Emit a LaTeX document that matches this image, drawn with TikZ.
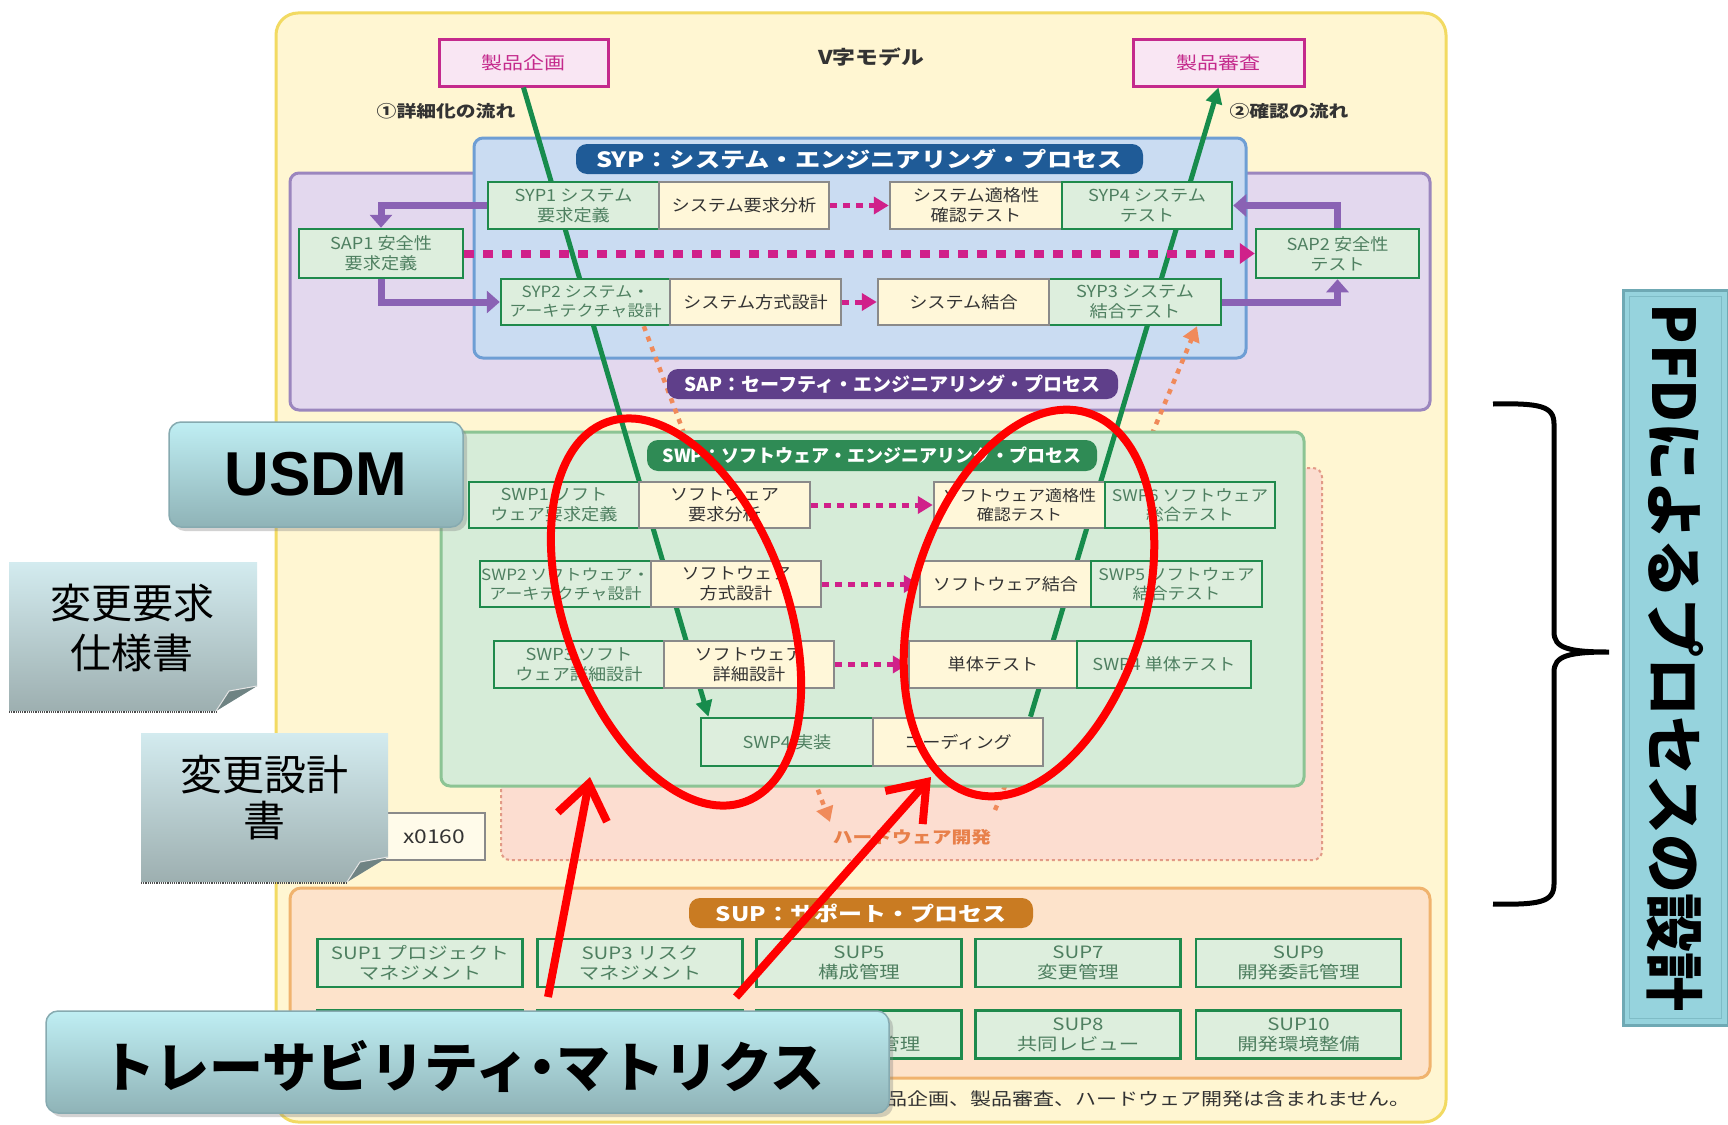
\documentclass[tikz,border=0pt]{standalone}
\usepackage{fontspec}
\setmainfont{Noto Sans CJK JP}
\newfontfamily\jpw[FakeStretch=1.2]{Noto Sans CJK JP}
\newfontfamily\jpm[FakeStretch=1.1]{Noto Sans CJK JP}
\newfontfamily\jpn{Noto Sans CJK JP}
\newfontfamily\arl{Liberation Sans}
\usetikzlibrary{arrows.meta,calc,shadows}
\newcommand\myfs[2]{\fontsize{#1}{#2}\selectfont}
\definecolor{outerfill}{HTML}{FFF6D2}
\definecolor{outerdraw}{HTML}{F2DA62}
\definecolor{sapfill}{HTML}{E3D8EE}
\definecolor{sapdraw}{HTML}{9B86BE}
\definecolor{sypfill}{HTML}{CADCF2}
\definecolor{sypdraw}{HTML}{6E9ED4}
\definecolor{hwfill}{HTML}{FCDDD0}
\definecolor{hwdraw}{HTML}{E29A86}
\definecolor{swpfill}{HTML}{D6ECD8}
\definecolor{swpdraw}{HTML}{8CC494}
\definecolor{supfill}{HTML}{FDE3CB}
\definecolor{supdraw}{HTML}{F0B36E}
\definecolor{sypblue}{HTML}{1F5B97}
\definecolor{sappurp}{HTML}{5F3F8A}
\definecolor{swpgreen}{HTML}{2F8B55}
\definecolor{supbrown}{HTML}{C97B22}
\definecolor{magdot}{HTML}{D0208A}
\definecolor{purparr}{HTML}{8A62B4}
\definecolor{oradot}{HTML}{F08A5A}
\definecolor{vgreen}{HTML}{178C4C}
\definecolor{boxgreen}{HTML}{1F8A4C}
\definecolor{gfill}{HTML}{DDEEDD}
\definecolor{cfill}{HTML}{FFF7D9}
\definecolor{cgray}{HTML}{8A8A8A}
\definecolor{gtext}{HTML}{4E7F60}
\definecolor{ctext}{HTML}{333333}
\definecolor{kfill}{HTML}{F9E6F3}
\definecolor{kdraw}{HTML}{C42A8C}
\definecolor{calltop}{HTML}{BFEEF3}
\definecolor{callbot}{HTML}{8FB3B7}
\definecolor{calloutdraw}{HTML}{86AAB0}
\definecolor{notetop}{HTML}{D3EBEF}
\definecolor{notebot}{HTML}{9DAFB0}
\definecolor{foldgray}{HTML}{6F8383}
\definecolor{pfdfill}{HTML}{96D3DD}
\definecolor{pfdborder}{HTML}{6FA9B4}
\definecolor{pfdinner}{HTML}{7FBCC6}
\definecolor{hwtext}{HTML}{E8804A}
\definecolor{xfill}{HTML}{FFFBEA}
\begin{document}
\begin{tikzpicture}[x=1pt,y=-1pt,
 gbox/.style={draw=boxgreen, line width=2.5pt, fill=gfill, text=gtext, align=center, inner sep=0pt, font=\jpm\myfs{16.5}{20}},
 cbox/.style={draw=cgray, line width=2.5pt, fill=cfill, text=ctext, align=center, inner sep=0pt, font=\jpm\myfs{16.5}{20}},
 sbox/.style={gbox, minimum width=205, minimum height=48, font=\jpw\myfs{17}{20}},
 lab/.style={rounded corners=11pt, text=white, inner sep=0pt, font=\jpw\bfseries\myfs{21}{21}},
 cont/.style={rounded corners=9pt, line width=3pt},
 magarrow/.style={draw=magdot, line width=5pt, dash pattern=on 7pt off 6pt, -{Triangle[length=15pt,width=17pt]}},
 purparrow/.style={draw=purparr, line width=7pt, -{Triangle[length=13pt,width=22pt]}},
 orarrow/.style={draw=oradot, line width=4.5pt, dash pattern=on 5pt off 6pt, -{Triangle[length=15pt,width=17pt]}},
 vline/.style={draw=vgreen, line width=5pt},
 redring/.style={draw=red, line width=8pt},
 redarrow/.style={draw=red, line width=8pt, -{Straight Barb[length=34pt,width=50pt]}},
 callout/.style={draw=calloutdraw, line width=1.5pt, rounded corners=12pt, top color=calltop, bottom color=callbot, drop shadow={shadow xshift=4pt, shadow yshift=-4pt, opacity=0.35}},
 note/.style={top color=notetop, bottom color=notebot},
]
\fill[white] (0,0) rectangle (1728,1124);
\useasboundingbox (0,0) rectangle (1728,1124);

% outer frame
\draw[fill=outerfill, draw=outerdraw, line width=3pt, rounded corners=22pt] (276,13) rectangle (1446,1122);

% top
\node[draw=kdraw, line width=3pt, fill=kfill, text=kdraw, minimum width=169, minimum height=46, inner sep=0pt, font=\jpw\myfs{17.5}{20}] (kikaku) at (523.5,63) {製品企画};
\node[draw=kdraw, line width=3pt, fill=kfill, text=kdraw, minimum width=171, minimum height=46, inner sep=0pt, font=\jpw\myfs{17.5}{20}] (shinsa) at (1218.5,63) {製品審査};
\node[text=ctext, font=\jpw\bfseries\myfs{19}{20}] (vmodel) at (871,57) {V字モデル};
\node[text=ctext, font=\jpw\bfseries\myfs{16.5}{20}] (flow1) at (446,111) {①詳細化の流れ};
\node[text=ctext, font=\jpw\bfseries\myfs{16.5}{20}] (flow2) at (1289,111) {②確認の流れ};

% containers
\draw[cont, fill=sapfill, draw=sapdraw] (290,173) rectangle (1430,410);
\draw[cont, fill=sypfill, draw=sypdraw] (474,138) rectangle (1246,358);
\draw[cont, fill=hwfill, draw=hwdraw, dashed, line width=2pt] (501,468) rectangle (1322,860);
\node[text=hwtext, font=\jpw\bfseries\myfs{16.5}{20}] (hw) at (912,837) {ハードウェア開発};

% nodes needed for orange lines (defined first)
\node[gbox,minimum width=169,minimum height=46,font=\jpm\myfs{15.5}{19}] (syp2) at (585.5,302) {SYP2 システム・\\アーキテクチャ設計};
\node[gbox,minimum width=172,minimum height=46] (syp3) at (1135,302) {SYP3 システム\\結合テスト};
\coordinate (hwin) at (830,822);
\coordinate (hwout) at (995,810);
\draw[orarrow] ($(syp2.south west)!0.84!(syp2.south east)$) -- (hwin);
\draw[orarrow] (hwout) -- ($(syp3.south west)!0.855!(syp3.south east)$);

\draw[cont, fill=swpfill, draw=swpdraw] (441,432) rectangle (1304,786);

% SWP row 4 nodes (needed for the V lines)
\node[gbox,minimum width=172,minimum height=48] (swp4) at (787,742) {SWP4 実装};
\node[cbox,minimum width=170,minimum height=48] (coding) at (958,742) {コーディング};

% V lines
\draw[vline, -{Triangle[length=16pt,width=16pt]}] (kikaku.south) -- ($(swp4.north west)!0.05!(swp4.north east)$);
\draw[vline, -{Triangle[length=16pt,width=16pt]}] ($(coding.north west)!0.92!(coding.north east)$) -- (shinsa.south);

% redraw the row-4 and SYP2/3 boxes over the lines
\node[gbox,minimum width=172,minimum height=48] (swp4b) at (787,742) {SWP4 実装};
\node[cbox,minimum width=170,minimum height=48] (codingb) at (958,742) {コーディング};
\node[gbox,minimum width=169,minimum height=46,font=\jpm\myfs{15.5}{19}] (syp2b) at (585.5,302) {SYP2 システム・\\アーキテクチャ設計};
\node[gbox,minimum width=172,minimum height=46] (syp3b) at (1135,302) {SYP3 システム\\結合テスト};

% labels
\node[lab, fill=sypblue, minimum width=567, minimum height=30] (syplab) at (859.5,159) {SYP：システム・エンジニアリング・プロセス};
\node[lab, fill=sappurp, minimum width=451, minimum height=30, font=\jpn\bfseries\myfs{19}{19}] (saplab) at (892.5,384) {SAP：セーフティ・エンジニアリング・プロセス};
\node[lab, fill=swpgreen, minimum width=450, minimum height=31, font=\jpn\bfseries\myfs{18}{18}] (swplab) at (872,455.5) {SWP：ソフトウェア・エンジニアリング・プロセス};

% SYP boxes
\node[gbox,minimum width=171,minimum height=47] (syp1) at (573.5,205.5) {SYP1 システム\\要求定義};
\node[cbox,minimum width=170,minimum height=47] (sysreq) at (744,205.5) {システム要求分析};
\node[cbox,minimum width=172,minimum height=47] (sysqt) at (976,205.5) {システム適格性\\確認テスト};
\node[gbox,minimum width=170,minimum height=47] (syp4) at (1147,205.5) {SYP4 システム\\テスト};
\node[gbox,minimum width=164,minimum height=49] (sap1) at (381,253.5) {SAP1 安全性\\要求定義};
\node[gbox,minimum width=163,minimum height=49] (sap2) at (1337.5,253.5) {SAP2 安全性\\テスト};
\node[cbox,minimum width=171,minimum height=46] (sysarch) at (755.5,302) {システム方式設計};
\node[cbox,minimum width=171,minimum height=46] (sysint) at (963.5,302) {システム結合};

% SWP boxes
\node[gbox,minimum width=170,minimum height=46] (swp1) at (554,505) {SWP1 ソフト\\ウェア要求定義};
\node[cbox,minimum width=171,minimum height=46] (swreq) at (724.5,505) {ソフトウェア\\要求分析};
\node[cbox,minimum width=171,minimum height=46,font=\jpm\myfs{15.5}{19}] (swqt) at (1019.5,505) {ソフトウェア適格性\\確認テスト};
\node[gbox,minimum width=170,minimum height=46,font=\jpm\myfs{16}{19}] (swp6) at (1190,505) {SWP6 ソフトウェア\\総合テスト};
\node[gbox,minimum width=171,minimum height=46,font=\jpm\myfs{15.5}{19}] (swp2) at (565.5,584) {SWP2 ソフトウェア・\\アーキテクチャ設計};
\node[cbox,minimum width=170,minimum height=46] (swarch) at (736,584) {ソフトウェア\\方式設計};
\node[cbox,minimum width=171,minimum height=46] (swint) at (1005.5,584) {ソフトウェア結合};
\node[gbox,minimum width=171,minimum height=46,font=\jpm\myfs{16}{19}] (swp5) at (1176.5,584) {SWP5 ソフトウェア\\結合テスト};
\node[gbox,minimum width=170,minimum height=47] (swp3) at (579,664.5) {SWP3 ソフト\\ウェア詳細設計};
\node[cbox,minimum width=170,minimum height=47] (swdet) at (749,664.5) {ソフトウェア\\詳細設計};
\node[cbox,minimum width=168,minimum height=47] (unit) at (993,664.5) {単体テスト};
\node[gbox,minimum width=174,minimum height=47] (swp4t) at (1164,664.5) {SWP4 単体テスト};

% connectors
\draw[magarrow] (sysreq.east) -- (sysqt.west);
\draw[magarrow] (sysarch.east) -- (sysint.west);
\draw[magarrow, line width=8pt, dash pattern=on 10pt off 9pt, -{Triangle[length=15pt,width=20pt]}] (sap1.east) -- (sap2.west);
\draw[magarrow] (swreq.east) -- (swqt.west);
\draw[magarrow] (swarch.east) -- (swint.west);
\draw[magarrow] (swdet.east) -- (unit.west);
\draw[purparrow] (syp1.west) -| (sap1.north);
\draw[purparrow] (sap1.south) |- (syp2b.west);
\draw[purparrow] (syp3b.east) -| (sap2.south);
\draw[purparrow] (sap2.north) |- (syp4.east);

% x0160
\node[draw=cgray, line width=2.5pt, fill=xfill, minimum width=102, minimum height=47, inner sep=0pt, text=ctext, font=\jpw\myfs{19}{20}] (xbox) at (434,836.5) {x0160};

% SUP
\draw[cont, fill=supfill, draw=supdraw, rounded corners=11pt] (290,888) rectangle (1430,1078);
\node[lab, fill=supbrown, minimum width=344, minimum height=30, font=\jpw\bfseries\myfs{20}{20}] (suplab) at (861,913) {SUP：サポート・プロセス};
\node[sbox] (sup1) at (420,963) {SUP1 プロジェクト\\マネジメント};
\node[sbox] (sup3) at (640,963) {SUP3 リスク\\マネジメント};
\node[sbox] (sup5) at (859,963) {SUP5\\構成管理};
\node[sbox] (sup7) at (1078,963) {SUP7\\変更管理};
\node[sbox] (sup9) at (1298.5,963) {SUP9\\開発委託管理};
\node[sbox] (sup2) at (420,1034.5) {};
\node[sbox] (sup4) at (640,1034.5) {};
\node[sbox] (sup6) at (859,1034.5) {SUP6\\問題解決管理};
\node[sbox] (sup8) at (1078,1034.5) {SUP8\\共同レビュー};
\node[sbox] (sup10) at (1298.5,1034.5) {SUP10\\開発環境整備};
\node[anchor=east, text=ctext, font=\jpw\myfs{17.5}{20}] (foot) at (1414,1099) {製品企画、製品審査、ハードウェア開発は含まれません。};

% red annotations
\coordinate (lell) at (676,612);
\coordinate (rell) at (1029,603);
\draw[redring, rotate around={20:(lell)}] (lell) ellipse [x radius=111, y radius=202];
\draw[redring, rotate around={-17:(rell)}] (rell) ellipse [x radius=116, y radius=199];
\coordinate (la0) at (548,997);
\coordinate (la1) at (590,777);
\coordinate (ra0) at (736,997);
\coordinate (ra1) at (931,777);
\draw[redarrow] (la0) -- (la1);
\draw[redarrow] (ra0) -- (ra1);

% USDM
\node[callout, minimum width=294, minimum height=105, inner sep=0pt, font=\arl\bfseries\myfs{62}{62}] (usdm) at (316,474.5) {USDM};

% notes
\shade[note] (9,562) -- (257,562) -- (257,686) -- (216,711) -- (9,711) -- cycle;
\fill[foldgray] (216,711) -- (229,691) -- (257,686) -- cycle;
\draw[white!80!gray, line width=1pt] (216,711) -- (229,691) -- (257,686);
\draw[gray!60!black, line width=1.2pt, densely dotted] (9,712) -- (216,712);
\node[align=center, font=\jpn\myfs{41}{50}] (req) at (132,628) {変更要求\\仕様書};

\shade[note] (141,733) -- (388,733) -- (388,857) -- (347,882) -- (141,882) -- cycle;
\fill[foldgray] (347,882) -- (360,862) -- (388,857) -- cycle;
\draw[white!80!gray, line width=1pt] (347,882) -- (360,862) -- (388,857);
\draw[gray!60!black, line width=1.2pt, densely dotted] (141,883) -- (347,883);
\node[align=center, font=\jpn\myfs{42}{46}] (des) at (264,798) {変更設計\\書};

% banner
\node[callout, minimum width=843, minimum height=102, inner sep=0pt] (trace) at (467.5,1062) {};
\node[font=\jpn\bfseries\myfs{54}{54}] (tracetxt) at (463,1066) {トレーサビリティ\hspace{-0.25em}・\hspace{-0.25em}マトリクス};

% brace
\draw[line width=5pt] (1493,404) .. controls (1540,403) and (1554,406) .. (1554,424) -- (1554,632) .. controls (1554,648) and (1568,652) .. (1609,652) .. controls (1568,652) and (1554,656) .. (1554,672) -- (1554,884) .. controls (1554,902) and (1540,905) .. (1493,904);

% PFD
\node[draw=pfdborder, line width=3pt, fill=pfdfill, minimum width=105, minimum height=735, inner sep=0pt] (pfd) at (1675.5,657.5) {};
\draw[pfdinner, line width=1.5pt] ($(pfd.north west)+(8,8)$) rectangle ($(pfd.south east)+(-8,-8)$);
\node[rotate=-90, font=\jpn\bfseries\myfs{59}{59}] (pfdtxt) at (pfd.center) {PFDによるプロセスの設計};
\end{tikzpicture}
\end{document}
